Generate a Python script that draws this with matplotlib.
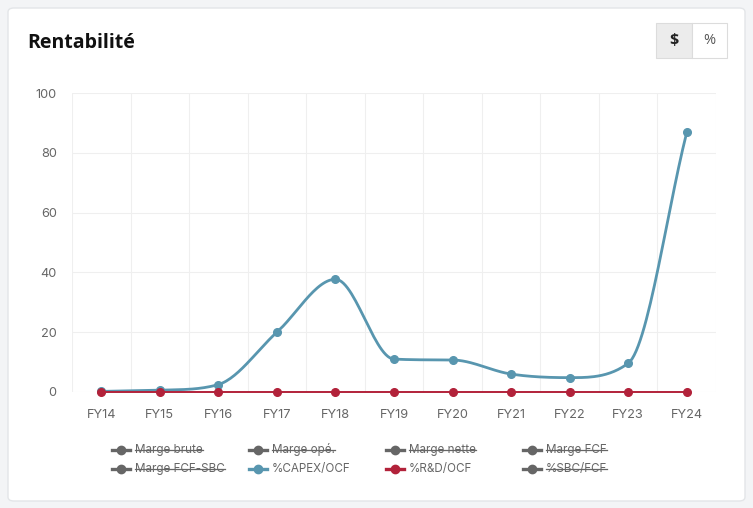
import numpy as np
import matplotlib.pyplot as plt
from matplotlib.patches import FancyBboxPatch, Rectangle
from matplotlib.lines import Line2D

annees = ['FY14', 'FY15', 'FY16', 'FY17', 'FY18', 'FY19', 'FY20', 'FY21', 'FY22', 'FY23', 'FY24']
capex_ocf = [0.2, 0.6, 2.5, 20.0, 37.7, 11.0, 10.7, 6.0, 4.8, 9.6, 86.8]
rd_ocf = [0, 0, 0, 0, 0, 0, 0, 0, 0, 0, 0]

legende = ['Marge brute', 'Marge opé.', 'Marge nette', 'Marge FCF',
           'Marge FCF-SBC', '%CAPEX/OCF', '%R&D/OCF', '%SBC/FCF']
visible = [False, False, False, False, False, True, True, False]

bleu = '#5896af'
rouge = '#b2223a'
gris = '#666666'
couleurs = [gris, gris, gris, gris, gris, bleu, rouge, gris]


def monotone(x, y, n=30):
    # interpolation cubique monotone (comme chart.js) pour le trace
    x = np.asarray(x, float)
    y = np.asarray(y, float)
    h = np.diff(x)
    d = np.diff(y) / h
    m = np.zeros_like(y)
    m[0], m[-1] = d[0], d[-1]
    for k in range(1, len(y) - 1):
        if d[k - 1] * d[k] <= 0:
            m[k] = 0
        else:
            m[k] = (d[k - 1] + d[k]) / 2
    for k in range(len(d)):
        if d[k] == 0:
            m[k] = m[k + 1] = 0
            continue
        a, b = m[k] / d[k], m[k + 1] / d[k]
        s = a * a + b * b
        if s > 9:
            t = 3 / np.sqrt(s)
            m[k] = t * a * d[k]
            m[k + 1] = t * b * d[k]
    xs, ys = [], []
    for k in range(len(d)):
        t = np.linspace(0, 1, n)
        h00 = 2 * t**3 - 3 * t**2 + 1
        h10 = t**3 - 2 * t**2 + t
        h01 = -2 * t**3 + 3 * t**2
        h11 = t**3 - t**2
        xs.append(x[k] + t * h[k])
        ys.append(h00 * y[k] + h10 * h[k] * m[k] + h01 * y[k + 1] + h11 * h[k] * m[k + 1])
    return np.concatenate(xs), np.concatenate(ys)


W, H = 753, 508
fig = plt.figure(figsize=(W / 100, H / 100), dpi=100)
fig.patch.set_facecolor('#f3f4f6')

# carte blanche
carte = FancyBboxPatch((8 / W, 7 / H), 737 / W, 493 / H,
                       boxstyle='round,pad=0,rounding_size=0.008',
                       transform=fig.transFigure, facecolor='white',
                       edgecolor='#e3e5e8', linewidth=1, zorder=-5)
fig.patches.append(carte)

fig.text(27 / W, 1 - 48 / H, 'Rentabilité', fontsize=14, fontweight='bold',
         family='Open Sans', color='#111111', va='baseline')

# boutons $ / %
fig.patches.append(Rectangle((656 / W, 1 - 58 / H), 36 / W, 35 / H, transform=fig.transFigure,
                             facecolor='#ececec', edgecolor='#dcdcdc', linewidth=0.8))
fig.patches.append(Rectangle((692 / W, 1 - 58 / H), 35 / W, 35 / H, transform=fig.transFigure,
                             facecolor='white', edgecolor='#dcdcdc', linewidth=0.8))
fig.text(674 / W, 1 - 41 / H, '$', fontsize=11.5, family='Open Sans', fontweight='bold',
         color='#222222', ha='center', va='center')
fig.text(709 / W, 1 - 41 / H, '%', fontsize=10.5, family='Open Sans',
         color='#555555', ha='center', va='center')

ax = fig.add_axes([72 / W, 1 - 392 / H, 644 / W, 299 / H])
ax.set_facecolor('none')
x = np.arange(len(annees))

ax.set_xlim(-0.5, len(annees) - 0.5)
ax.set_ylim(0, 100)
ax.set_yticks([0, 20, 40, 60, 80, 100])
ax.set_xticks(x)
ax.set_xticklabels(annees)
ax.set_xticks(np.arange(-0.5, len(annees), 1), minor=True)
ax.grid(True, axis='y', color='#efefef', linewidth=0.8)
ax.grid(True, axis='x', which='minor', color='#efefef', linewidth=0.8)
ax.tick_params(which='both', length=0)
ax.tick_params(axis='x', pad=12)
ax.tick_params(axis='y', pad=11)
for lab in ax.get_xticklabels() + ax.get_yticklabels():
    lab.set_fontsize(9.2)
    lab.set_color(gris)
    lab.set_family('Inter')
for s in ax.spines.values():
    s.set_visible(False)

xc, yc = monotone(x, capex_ocf)
ax.plot(xc, yc, color=bleu, linewidth=2, clip_on=False, zorder=3)
ax.plot(x, capex_ocf, 'o', color=bleu, markersize=5.5, clip_on=False, zorder=4)
xr, yr = monotone(x, rd_ocf)
ax.plot(xr, yr, color=rouge, linewidth=1.4, clip_on=False, zorder=5)
ax.plot(x, rd_ocf, 'o', color=rouge, markersize=5.5, clip_on=False, zorder=6)

# legende
col_x = [121, 258, 395, 532]
row_y = [450, 469]
for i, nom in enumerate(legende):
    cx = col_x[i % 4]
    cy = row_y[i // 4]
    fig.add_artist(Line2D([(cx - 9) / W, (cx + 9) / W], [1 - cy / H, 1 - cy / H],
                          color=couleurs[i], linewidth=2.4, transform=fig.transFigure))
    fig.add_artist(Line2D([cx / W], [1 - cy / H], color=couleurs[i], marker='o',
                          markersize=6, transform=fig.transFigure))
    t = fig.text((cx + 14) / W, 1 - (cy + 3.2) / H, nom, fontsize=8.4, family='Inter',
                 color=gris, va='baseline')
    if not visible[i]:
        fig.canvas.draw()
        bb = t.get_window_extent()
        fig.add_artist(Line2D([bb.x0 / W, bb.x1 / W], [1 - cy / H, 1 - cy / H],
                              color=gris, linewidth=0.9, transform=fig.transFigure))

fig.savefig('out.png', dpi=100, facecolor=fig.get_facecolor())
